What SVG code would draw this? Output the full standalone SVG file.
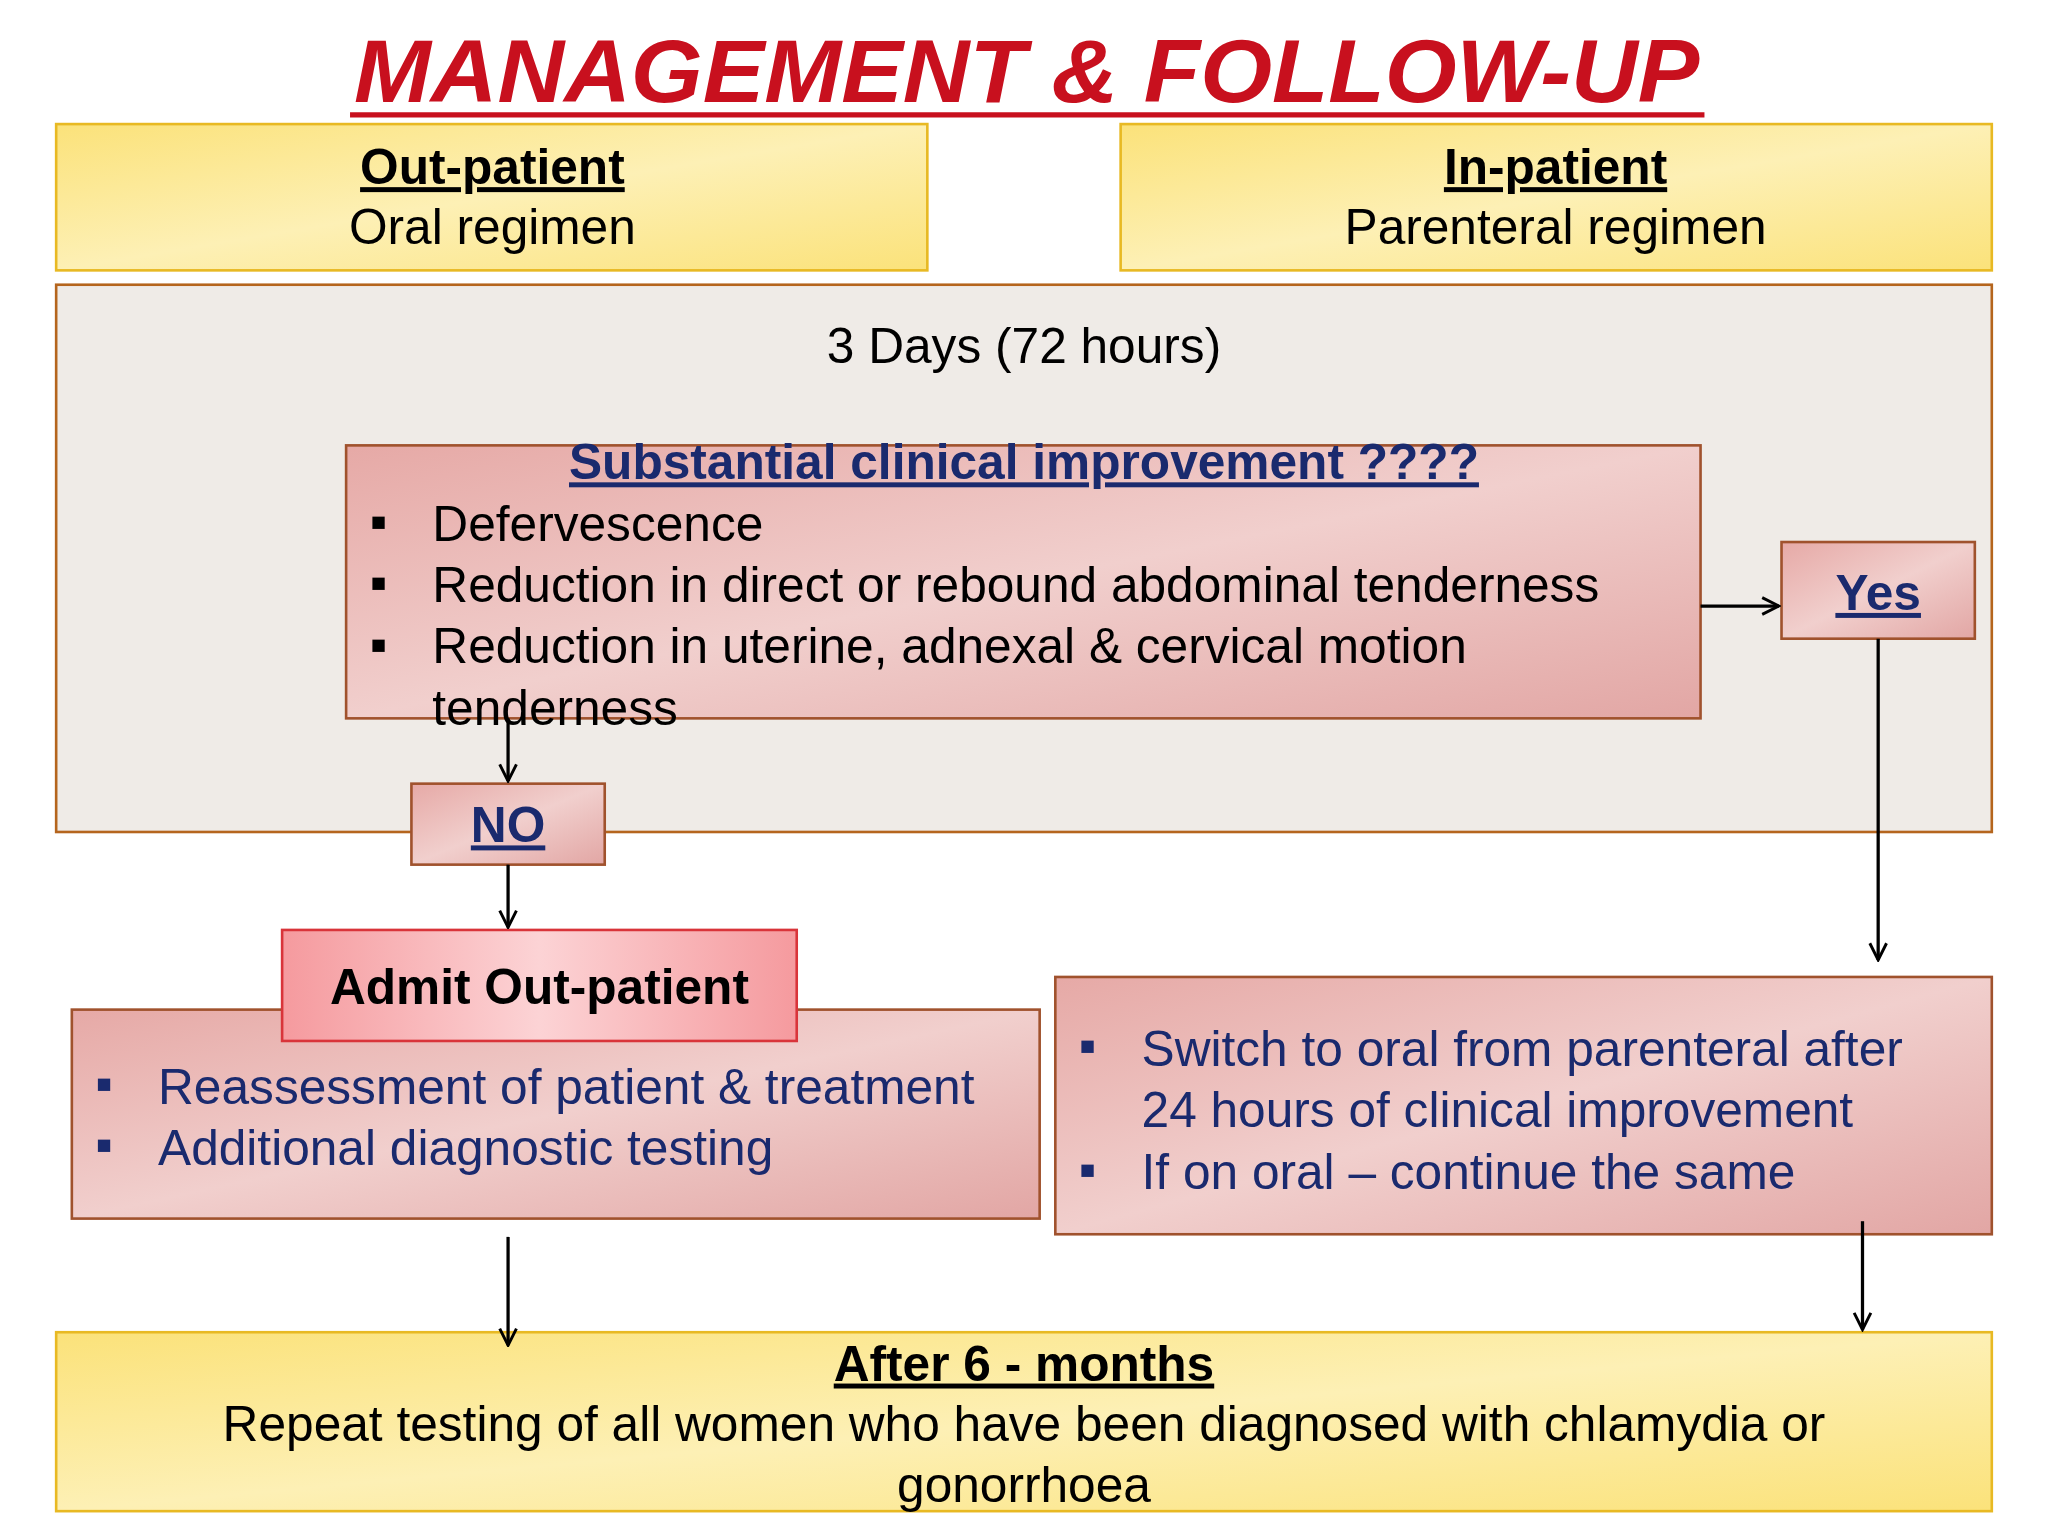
<svg xmlns="http://www.w3.org/2000/svg" width="2048" height="1536" viewBox="0 0 2048 1536">
<defs>
<linearGradient id="yel" x1="0" y1="0" x2="1" y2="1"><stop offset="0" stop-color="#fbe27a"/><stop offset="0.5" stop-color="#fdf0b5"/><stop offset="1" stop-color="#fbe27a"/></linearGradient>
<linearGradient id="pink" x1="0" y1="0" x2="1" y2="1"><stop offset="0" stop-color="#e6a9a6"/><stop offset="0.5" stop-color="#f1cfcd"/><stop offset="1" stop-color="#e2a6a4"/></linearGradient>
<linearGradient id="pink2" x1="0" y1="0" x2="1" y2="0"><stop offset="0" stop-color="#f59a9e"/><stop offset="0.5" stop-color="#fcd3d5"/><stop offset="1" stop-color="#f59a9e"/></linearGradient>
<marker id="ah" viewBox="0 0 10 10" refX="9" refY="5" markerWidth="16" markerHeight="16" markerUnits="userSpaceOnUse" orient="auto"><path d="M1,1 L9,5 L1,9" fill="none" stroke="#000" stroke-width="1.4"/></marker>
<style>
text{font-family:"Liberation Sans",Arial,sans-serif;font-size:38px;}
.y{fill:url(#yel);stroke:#e8b923;stroke-width:2}
.p{fill:url(#pink);stroke:#a0522d;stroke-width:2}
.h{font-weight:bold;text-decoration:underline;text-anchor:middle}
.c{text-anchor:middle}
.n{fill:#1a2a6e}
.con line{stroke:#000;stroke-width:2.5;marker-end:url(#ah)}
</style>
</defs>
<rect width="2048" height="1536" fill="#fff"/>
<g transform="scale(1.3061)">
<g id="title"><text x="786" y="78" text-anchor="middle" style="font-size:68px;font-weight:bold;font-style:italic;fill:#c8101e" textLength="1030" lengthAdjust="spacingAndGlyphs">MANAGEMENT &amp; FOLLOW-UP</text><line x1="268" y1="88" x2="1305" y2="88" stroke="#c8101e" stroke-width="4"/></g>
<g id="outpatient"><rect class="y" x="43" y="95" width="667" height="112"/><text class="h" x="377" y="141">Out-patient</text><text class="c" x="377" y="187">Oral regimen</text></g>
<g id="inpatient"><rect class="y" x="858" y="95" width="667" height="112"/><text class="h" x="1191" y="141">In-patient</text><text class="c" x="1191" y="187">Parenteral regimen</text></g>
<g id="days"><rect x="43" y="218" width="1482" height="419" fill="#efebe7" stroke="#b5651d" stroke-width="2"/><text class="c" x="784" y="278">3 Days (72 hours)</text></g>
<g id="improvement"><rect class="p" x="265" y="341" width="1037" height="209"/>
<text class="h n" x="784" y="367">Substantial clinical improvement ????</text>
<text x="283" y="412">▪</text><text x="331" y="414">Defervescence</text>
<text x="283" y="459">▪</text><text x="331" y="461">Reduction in direct or rebound abdominal tenderness</text>
<text x="283" y="506">▪</text><text x="331" y="508">Reduction in uterine,  adnexal &amp; cervical motion</text>
<text x="331" y="555">tenderness</text></g>
<g id="yes"><rect class="p" x="1364" y="415" width="148" height="74"/><text class="h n" x="1438" y="467">Yes</text></g>
<g id="no"><rect class="p" x="315" y="600" width="148" height="62"/><text class="h n" x="389" y="645">NO</text></g>
<g id="reassess"><rect class="p" x="55" y="773" width="741" height="160"/>
<text class="n" x="73" y="842">▪</text><text class="n" x="121" y="845">Reassessment of patient &amp; treatment</text>
<text class="n" x="73" y="889">▪</text><text class="n" x="121" y="892">Additional diagnostic testing</text></g>
<g id="admit"><rect x="216" y="712" width="394" height="85" fill="url(#pink2)" stroke="#d9343a" stroke-width="2"/><text class="c" x="413" y="769" font-weight="bold">Admit Out-patient</text></g>
<g id="switch"><rect class="p" x="808" y="748" width="717" height="197"/>
<text class="n" x="826" y="813">▪</text><text class="n" x="874" y="816">Switch to oral from parenteral after</text>
<text class="n" x="874" y="863">24 hours of clinical improvement</text>
<text class="n" x="826" y="908">▪</text><text class="n" x="874" y="910">If on oral – continue the same</text></g>
<g id="after"><rect class="y" x="43" y="1020" width="1482" height="137"/><text class="h" x="784" y="1057">After 6 - months</text><text class="c" x="784" y="1103">Repeat testing of all women who have been diagnosed with chlamydia or</text><text class="c" x="784" y="1150">gonorrhoea</text></g>
<g class="con" id="connectors">
<line x1="1302" y1="464" x2="1362" y2="464"/>
<line x1="1438" y1="489" x2="1438" y2="735"/>
<line x1="389" y1="550" x2="389" y2="598"/>
<line x1="389" y1="662" x2="389" y2="710"/>
<line x1="389" y1="947" x2="389" y2="1030"/>
<line x1="1426" y1="935" x2="1426" y2="1018"/>
</g>
</g>
</svg>
